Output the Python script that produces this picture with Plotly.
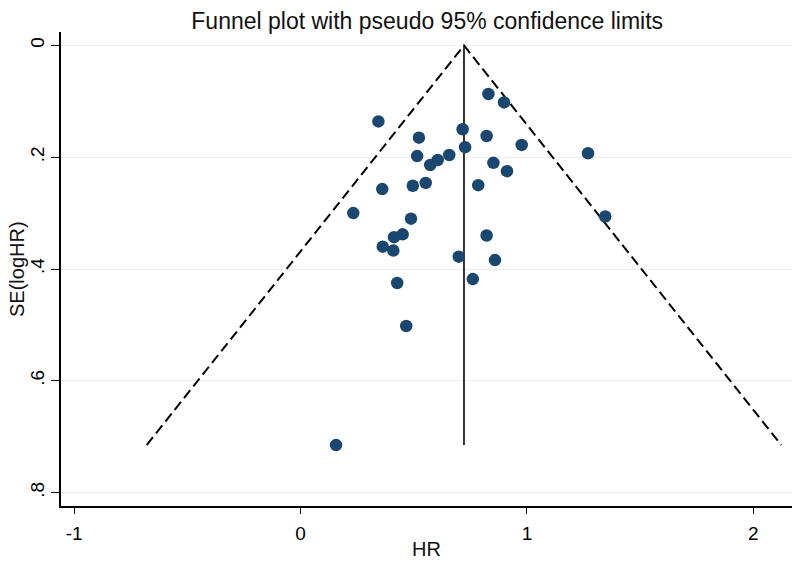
import plotly.graph_objects as go

# Study estimates (x = log hazard ratio, labelled HR) and their standard errors
hr = [0.830, 0.899, 0.716, 0.523, 0.822, 0.977, 0.727, 1.270, 0.515, 0.657,
      0.606, 0.573, 0.852, 0.912, 0.496, 0.553, 0.785, 0.488, 1.346, 0.451,
      0.822, 0.699, 0.859, 0.761, 0.344, 0.361, 0.233, 0.363, 0.413, 0.410,
      0.427, 0.467, 0.157]
se = [0.087, 0.102, 0.150, 0.165, 0.162, 0.178, 0.182, 0.193, 0.198, 0.196,
      0.205, 0.214, 0.210, 0.225, 0.251, 0.246, 0.250, 0.310, 0.306, 0.338,
      0.340, 0.378, 0.384, 0.418, 0.136, 0.257, 0.300, 0.360, 0.343, 0.367,
      0.425, 0.502, 0.715]

pooled = 0.722      # fixed-effect pooled estimate (vertical line)
se_max = 0.715      # funnel drawn down to largest SE
z = 1.96

x_ticks = [-1, 0, 1, 2]
x_tick_text = ["-1", "0", "1", "2"]
y_ticks = [0, 0.2, 0.4, 0.6, 0.8]
y_tick_text = ["0", ".2", ".4", ".6", ".8"]

FONT = "Liberation Sans, Arial, sans-serif"

fig = go.Figure()

# pseudo 95% confidence limits
fig.add_trace(go.Scatter(
    x=[pooled - z * se_max, pooled, pooled + z * se_max],
    y=[se_max, 0, se_max],
    mode="lines",
    line=dict(color="black", width=2, dash="10px,5px"),
    hoverinfo="skip", showlegend=False))

# pooled estimate line
fig.add_trace(go.Scatter(
    x=[pooled, pooled], y=[0, se_max],
    mode="lines",
    line=dict(color="#2a1c14", width=1.8),
    hoverinfo="skip", showlegend=False))

# studies
fig.add_trace(go.Scatter(
    x=hr, y=se, mode="markers",
    marker=dict(color="#1a476f", size=12.5, line=dict(width=0)),
    showlegend=False))

fig.update_layout(
    width=800, height=565,
    margin=dict(l=53, r=11, t=24, b=67, autoexpand=False),
    paper_bgcolor="white", plot_bgcolor="white",
    font=dict(family=FONT, color="black", size=19),
    title=dict(text="Funnel plot with pseudo 95% confidence limits",
               x=0.524, xanchor="center", y=1 - 12.5 / 565, yanchor="middle",
               yref="container",
               font=dict(family=FONT, size=23, color="#111")),
    xaxis=dict(range=[-1.058, 2.193], tickvals=x_ticks, ticktext=x_tick_text,
               automargin=False,
               showgrid=False, zeroline=False,
               showline=True, linecolor="black", linewidth=1.5,
               ticks="outside", ticklen=6, tickwidth=1.2, tickcolor="black",
               tickfont=dict(size=19), ticklabelstandoff=3),
    yaxis=dict(range=[0.824, -0.024], tickvals=y_ticks, ticktext=y_tick_text,
               automargin=False,
               showgrid=True, gridcolor="#e8f0f4", gridwidth=1,
               zeroline=False,
               showline=True, linecolor="black", linewidth=1.5,
               ticks="outside", ticklen=8, tickwidth=1.2, tickcolor="black",
               tickangle=-90, tickfont=dict(size=19)),
    annotations=[
        dict(text="HR", xref="paper", yref="paper", x=0.497, y=0,
             xanchor="center", yanchor="middle", yshift=-43, showarrow=False,
             font=dict(family=FONT, size=20, color="#111")),
        dict(text="SE(logHR)", xref="paper", yref="paper", x=0, y=0.5,
             xanchor="center", yanchor="middle", xshift=-44, textangle=-90,
             showarrow=False,
             font=dict(family=FONT, size=20, color="#111")),
    ],
)

fig.write_html("out.html")
